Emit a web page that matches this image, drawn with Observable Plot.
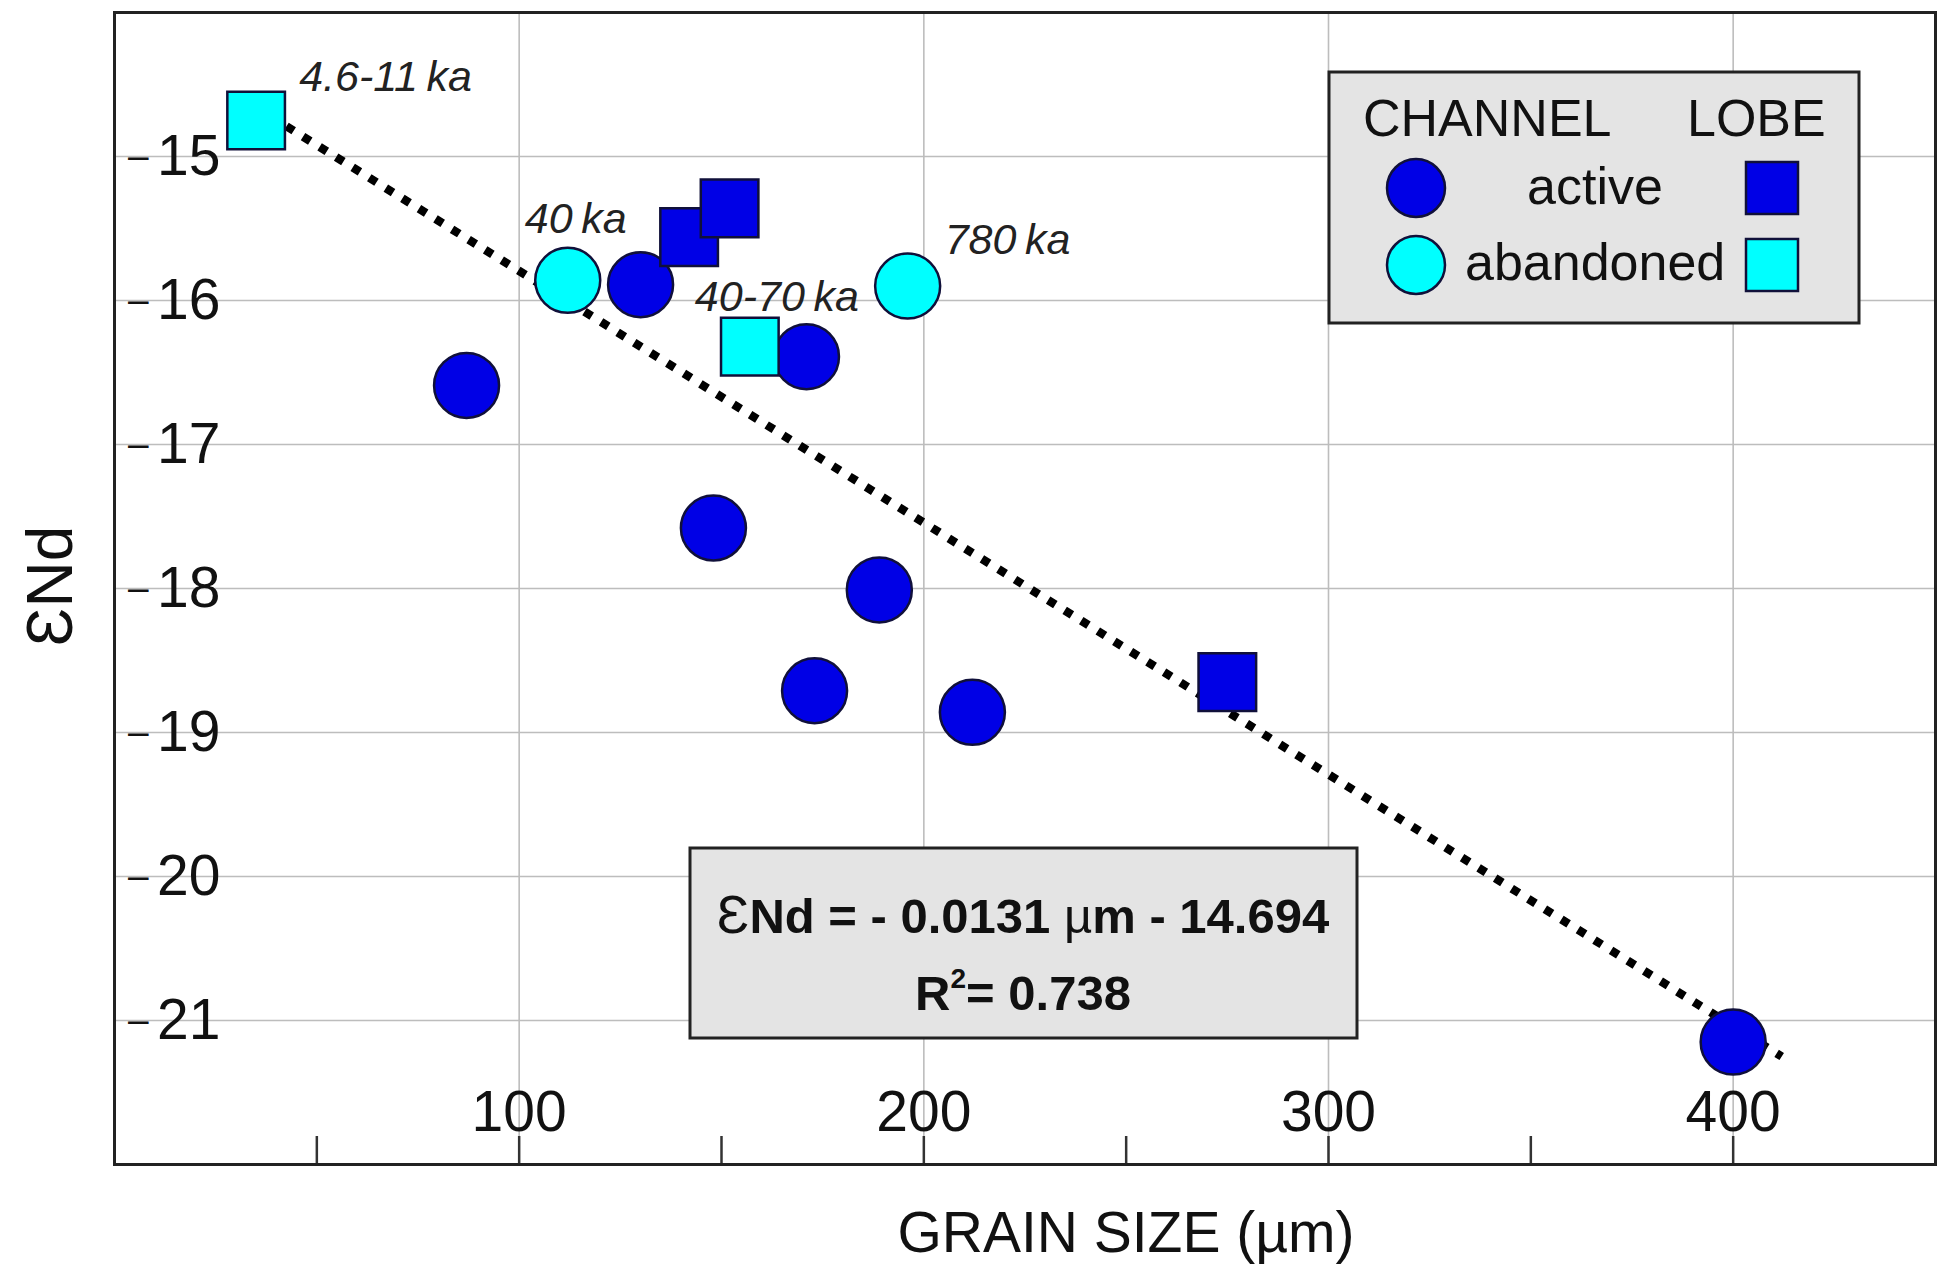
<!DOCTYPE html>
<html>
<head>
<meta charset="utf-8">
<script src="https://cdn.jsdelivr.net/npm/d3@7"></script>
<script src="https://cdn.jsdelivr.net/npm/@observablehq/plot@0.6"></script>
<style>
  html, body { margin: 0; padding: 0; background: #fff; }
  #chart { width: 1942px; height: 1271px; }
</style>
</head>
<body>
<div id="chart"></div>
<script>
// ---- data ----
const grainSize = [35, 112, 130, 142, 152, 196, 157, 171, 87, 148, 189, 173, 212, 275, 400];
const epsNd     = [-14.75, -15.86, -15.89, -15.56, -15.36, -15.90, -16.32, -16.39, -16.59, -17.58, -18.01, -18.71, -18.86, -18.65, -21.15];
const setting   = ["lobe", "channel", "channel", "lobe", "lobe", "channel", "lobe", "channel", "channel", "channel", "channel", "channel", "channel", "lobe", "channel"];
const status    = ["abandoned", "abandoned", "active", "active", "active", "abandoned", "abandoned", "active", "active", "active", "active", "active", "active", "active", "active"];
const ageLabel  = ["4.6-11\u2009ka", "40\u2009ka", "", "", "", "780\u2009ka", "40-70\u2009ka", "", "", "", "", "", "", "", ""];

// dotted trend line as drawn in the figure
const trendX = [42.5, 412];
const trendY = [-14.79, -21.25];

const xTickLabels = [100, 200, 300, 400];
const xMinorTicks = [50, 100, 150, 200, 250, 300, 350, 400];
const yTickLabels = [-21, -20, -19, -18, -17, -16, -15];

const legendTitles = ["CHANNEL", "LOBE"];
const legendRows = ["active", "abandoned"];
const equationText = ["- 0.0131", "- 14.694"];
const r2Text = "0.738";
const xLabel = "GRAIN SIZE (\u00b5m)";
const yLabel = "\u0190Nd";

// ---- layout / style ----
const W = 1942, H = 1271;
const mL = 114, mR = 7, mT = 12, mB = 107;
const FONT = "'Liberation Sans', Arial, Helvetica, sans-serif";
const BLUE = "#0000e6", CYAN = "#00ffff", EDGE = "#10103a";
const fillOf = s => s === "active" ? BLUE : CYAN;

const points = grainSize.map((x, i) => ({
  x, y: epsNd[i], setting: setting[i], status: status[i], label: ageLabel[i]
}));
const trend = trendX.map((x, i) => ({x, y: trendY[i]}));
const plotH = H - mT - mB;

const labelOffsets = {
  0: {dx: 43, dy: -30},
  1: {dx: -43, dy: -47},
  5: {dx: 37, dy: -32},
  6: {dx: -55, dy: -36}
};
const labelMarks = Object.entries(labelOffsets).map(([i, o]) =>
  Plot.text([points[+i]], {
    x: "x", y: "y", text: "label", dx: o.dx, dy: o.dy,
    textAnchor: "start", lineAnchor: "bottom",
    fontSize: 43, fontStyle: "italic", fill: "#222"
  })
);

const chart = Plot.plot({
  width: W, height: H,
  marginLeft: mL, marginRight: mR, marginTop: mT, marginBottom: mB,
  style: {fontFamily: FONT, background: "#fff", color: "#111"},
  x: {domain: [0, 450], label: null, axis: null},
  y: {domain: [-22, -14], label: null, axis: null},
  color: {type: "identity"},
  marks: [
    Plot.gridX(xTickLabels, {stroke: "#bdbdbd", strokeOpacity: 1, strokeWidth: 1.6}),
    Plot.gridY(yTickLabels, {stroke: "#bdbdbd", strokeOpacity: 1, strokeWidth: 1.6}),
    Plot.tickX(xMinorTicks, {x: d => d, insetTop: plotH - 28, stroke: "#333", strokeWidth: 2.5}),
    Plot.text(xTickLabels, {
      x: d => d, frameAnchor: "bottom", text: d => String(d),
      lineAnchor: "bottom", dy: -34, fontSize: 57, fill: "#111"
    }),
    // y tick labels: digits plus a separate dash, as in the figure
    Plot.text(yTickLabels, {
      y: d => d, frameAnchor: "left", text: d => String(Math.abs(d)),
      textAnchor: "end", lineAnchor: "middle", dx: 106, fontSize: 57, fill: "#111"
    }),
    Plot.text(yTickLabels, {
      y: d => d, frameAnchor: "left", text: () => "\u2013",
      textAnchor: "end", lineAnchor: "middle", dx: 34, dy: 0, fontSize: 37, fill: "#111"
    }),
    Plot.line(trend, {
      x: "x", y: "y", stroke: "#000", strokeWidth: 8.5,
      strokeDasharray: "8.5,11", strokeLinecap: "butt"
    }),
    Plot.dot(points.filter(d => d.setting === "channel"), {
      x: "x", y: "y", r: 32.5, symbol: "circle",
      fill: d => fillOf(d.status), stroke: EDGE, strokeWidth: 2.5
    }),
    Plot.dot(points.filter(d => d.setting === "lobe"), {
      x: "x", y: "y", r: 32.5, symbol: "square",
      fill: d => fillOf(d.status), stroke: EDGE, strokeWidth: 2.5
    }),
    ...labelMarks,
    Plot.frame({stroke: "#222", strokeWidth: 3})
  ]
});

document.getElementById("chart").appendChild(chart);

// ---- annotations: axis titles, legend box, equation box ----
const svg = d3.select(chart);
const g = svg.append("g").attr("font-family", FONT).attr("fill", "#111")
  .attr("text-anchor", "start");

g.append("text").attr("x", 1126).attr("y", 1252).attr("text-anchor", "middle")
  .attr("font-size", 57).text(xLabel);

g.append("text").attr("transform", "translate(72,586) rotate(-90)")
  .attr("text-anchor", "middle").attr("font-size", 64).text(yLabel);

// legend
const lg = g.append("g");
lg.append("rect").attr("x", 1329).attr("y", 72).attr("width", 530).attr("height", 251)
  .attr("fill", "#e4e4e4").attr("stroke", "#222").attr("stroke-width", 3);
lg.append("text").attr("x", 1363).attr("y", 136).attr("text-anchor", "start").attr("font-size", 52).text(legendTitles[0]);
lg.append("text").attr("x", 1687).attr("y", 136).attr("text-anchor", "start").attr("font-size", 52).text(legendTitles[1]);
lg.append("text").attr("x", 1595).attr("y", 204).attr("text-anchor", "middle").attr("font-size", 52).text(legendRows[0]);
lg.append("text").attr("x", 1465).attr("y", 280).attr("text-anchor", "start").attr("font-size", 52).text(legendRows[1]);
[[188, BLUE], [265, CYAN]].forEach(([cy, c]) => {
  lg.append("circle").attr("cx", 1416).attr("cy", cy).attr("r", 29)
    .attr("fill", c).attr("stroke", EDGE).attr("stroke-width", 2.5);
  lg.append("rect").attr("x", 1746).attr("y", cy - 26).attr("width", 52).attr("height", 52)
    .attr("fill", c).attr("stroke", EDGE).attr("stroke-width", 2.5);
});

// equation box
const eg = g.append("g");
eg.append("rect").attr("x", 690).attr("y", 848).attr("width", 667).attr("height", 190)
  .attr("fill", "#e4e4e4").attr("stroke", "#222").attr("stroke-width", 3);
const t1 = eg.append("text").attr("x", 1023).attr("y", 933).attr("text-anchor", "middle")
  .attr("font-size", 49);
t1.append("tspan").attr("font-size", 54).text("\u0190");
t1.append("tspan").attr("font-weight", "bold").text("Nd = " + equationText[0] + " ");
t1.append("tspan").text("\u00b5");
t1.append("tspan").attr("font-weight", "bold").text("m " + equationText[1]);
const t2 = eg.append("text").attr("x", 1023).attr("y", 1010).attr("text-anchor", "middle")
  .attr("font-size", 49).attr("font-weight", "bold");
t2.append("tspan").text("R");
t2.append("tspan").attr("font-size", 28).attr("dy", -22).text("2");
t2.append("tspan").attr("dy", 22).text("= " + r2Text);
</script>
</body>
</html>
